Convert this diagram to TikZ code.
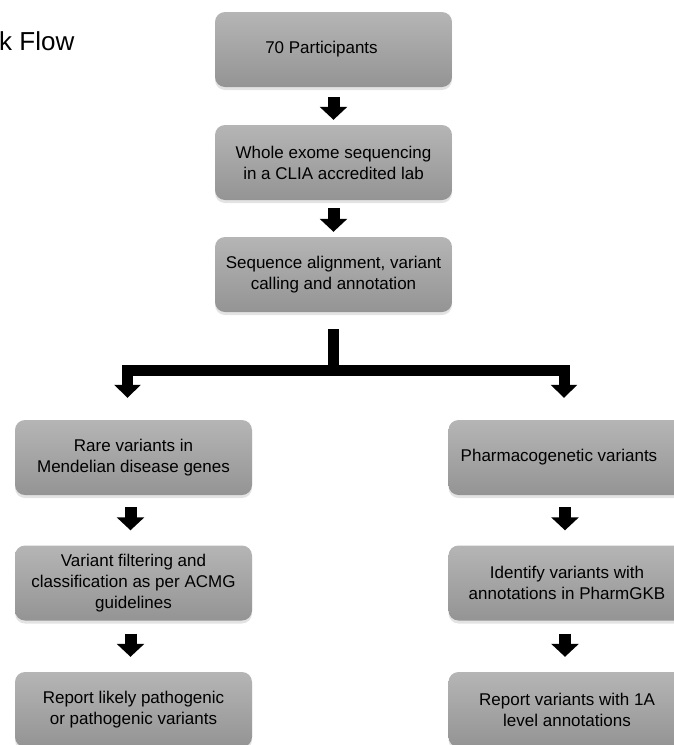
\documentclass[tikz,border=0pt]{standalone}
\usepackage{fontspec}
\setmainfont{Liberation Sans}
\usepackage{tikz}
\usetikzlibrary{arrows.meta,shadows}

\tikzset{
  stepbox/.style={rectangle, rounded corners=10pt, minimum width=237pt, minimum height=75pt,
    top color=black!29, bottom color=black!42, draw=none, align=center, inner sep=2pt,
    font=\fontsize{17pt}{21pt}\selectfont,
    drop shadow={shadow xshift=0pt, shadow yshift=-3pt, opacity=0.22}},
  blockarrow/.style={line width=12pt, -{Triangle[width=27pt,length=13pt]}},
  forkline/.style={line width=11pt},
  forkarrow/.style={line width=11pt, -{Triangle[width=26pt,length=13pt]}}
}

\begin{document}
\begin{tikzpicture}[x=1pt,y=-1pt]
\useasboundingbox (0,0) rectangle (674,745);
\node[anchor=base west, inner sep=0pt, font=\fontsize{26pt}{30pt}\selectfont] (Title) at (-1,50) {k Flow};
\node[stepbox] (Participants) at (333.5,49.5) {\hspace*{-24pt}70 Participants};
\node[stepbox] (Exome) at (333.5,162.5) {Whole exome sequencing\\in a CLIA accredited lab};
\node[stepbox] (Align) at (333.5,274.5) {Sequence alignment, variant\\calling and annotation};
\node[stepbox] (Rare) at (133.5,457.5) {Rare variants in\\Mendelian disease genes};
\node[stepbox] (Filter) at (133.5,583) {Variant filtering and\\classification as per ACMG\\guidelines};
\node[stepbox] (Pathogenic) at (133.5,709.5) {Report likely pathogenic\\or pathogenic variants};
\node[stepbox] (Pharma) at (567,457.5) {\hspace*{-16pt}Pharmacogenetic variants};
\node[stepbox] (PharmGKB) at (567,583) {Identify variants with\\annotations in PharmGKB};
\node[stepbox] (OneA) at (567,709.5) {Report variants with 1A\\level annotations};
\coordinate (Split) at (333.5,370);
\draw[blockarrow, shorten <=10pt, shorten >=5pt] (Participants) -- (Exome);
\draw[blockarrow, shorten <=8pt, shorten >=5pt] (Exome) -- (Align);
\draw[forkline, shorten <=17pt] (Align) -- (Split);
\draw[forkarrow, shorten >=22pt] (Split) -| ([xshift=-6pt]Rare.north);
\draw[forkarrow, shorten >=22pt] (Split) -| ([xshift=-3pt]Pharma.north);
\draw[blockarrow, shorten <=12pt, shorten >=15pt] ([xshift=-3pt]Rare.south) -- ([xshift=-3pt]Filter.north);
\draw[blockarrow, shorten <=13pt, shorten >=15pt] ([xshift=-3pt]Filter.south) -- ([xshift=-3pt]Pathogenic.north);
\draw[blockarrow, shorten <=12pt, shorten >=15pt] ([xshift=-2pt]Pharma.south) -- ([xshift=-2pt]PharmGKB.north);
\draw[blockarrow, shorten <=13pt, shorten >=15pt] ([xshift=-2pt]PharmGKB.south) -- ([xshift=-2pt]OneA.north);
\end{tikzpicture}
\end{document}
